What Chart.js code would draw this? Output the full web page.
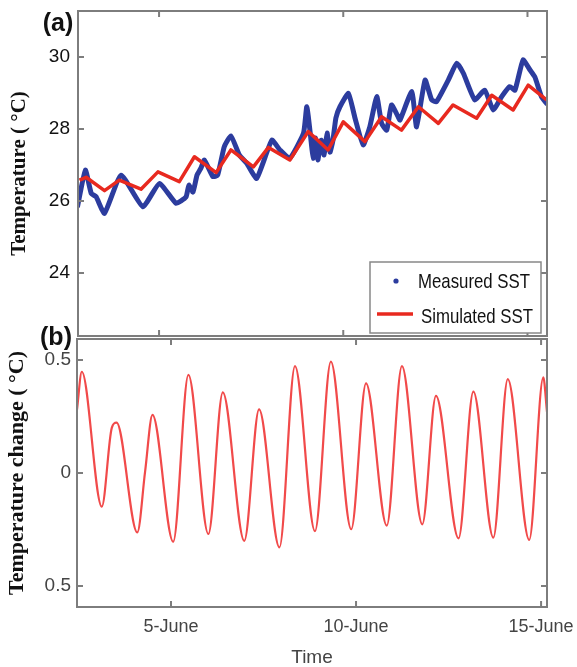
<!DOCTYPE html>
<html><head><meta charset="utf-8">
<script src="https://cdn.jsdelivr.net/npm/chart.js@4.4.1/dist/chart.umd.min.js"></script>
<style>
html,body{margin:0;padding:0;background:#fff;}
#wrap{position:relative;width:577px;height:667px;overflow:hidden;background:#fff;}
#topBox{position:absolute;left:0;top:0;width:577px;height:338px;}
#botBox{position:absolute;left:0;top:300px;width:577px;height:367px;}
canvas{display:block;}
</style></head><body>
<div id="wrap">
<div id="topBox"><canvas id="top" width="577" height="338"></canvas></div>
<div id="botBox"><canvas id="bot" width="577" height="367"></canvas></div>
</div>
<script>
// ---- data ----
const xTickDays = [5, 10, 15];
const xTickLabels = ['5-June', '10-June', '15-June'];
const topYTicks = [24, 26, 28, 30];
const bottomYTicks = [-0.5, 0, 0.5];
const bottomYLabels = ['0.5', '0', '0.5'];

const measDays = [2.79,3.00,3.16,3.29,3.52,3.97,4.56,5.01,5.46,5.73,5.81,5.92,6.03,6.14,6.23,6.46,6.59,6.77,6.95,7.18,7.38,7.65,8.06,8.28,8.55,8.92,9.01,9.11,9.18,9.25,9.31,9.40,9.48,9.56,9.64,9.72,9.80,9.91,10.14,10.32,10.54,10.72,10.91,11.04,11.18,11.31,11.49,11.54,11.86,11.99,12.22,12.40,12.53,12.85,13.08,13.26,13.57,13.84,14.07,14.30,14.52,14.66,14.88,15.07,15.20,15.38,15.52];
const measSST  = [25.86,26.86,26.21,26.12,25.66,26.72,25.84,26.49,25.94,26.11,26.44,26.25,26.72,26.92,27.14,26.68,26.72,27.51,27.81,27.28,27.05,26.63,27.69,27.42,27.19,27.88,28.62,27.83,27.19,27.75,27.14,27.69,27.28,27.89,27.36,27.69,28.31,28.62,28.99,28.30,27.56,28.06,28.90,28.16,27.97,28.67,28.34,28.25,29.04,28.06,29.36,28.81,28.76,29.36,29.83,29.55,28.81,29.08,28.53,28.90,29.18,29.08,29.92,29.64,29.45,28.90,28.71];

const simDays = [2.84,3.02,3.52,3.92,4.51,4.97,5.55,5.96,6.55,6.95,7.20,7.56,7.97,8.55,9.05,9.59,10.00,10.59,11.04,11.58,12.04,12.58,12.98,13.62,14.03,14.61,15.02,15.52];
const simSST  = [26.58,26.66,26.29,26.58,26.33,26.81,26.54,27.23,26.79,27.42,27.23,26.95,27.49,27.14,27.93,27.42,28.20,27.65,28.34,27.97,28.62,28.16,28.67,28.30,28.94,28.53,29.22,28.81];

const chgDays = [2.46,2.59,3.13,3.40,3.53,4.09,4.30,4.50,5.06,5.47,6.01,6.40,6.98,7.38,7.93,8.35,8.89,9.32,9.87,10.27,10.83,11.24,11.79,12.16,12.77,13.17,13.71,14.10,14.68,15.06,15.16];
const chgVals = [0.28,0.448,-0.149,0.20,0.223,-0.263,0.006,0.257,-0.304,0.434,-0.27,0.357,-0.30,0.282,-0.329,0.473,-0.257,0.493,-0.249,0.397,-0.233,0.473,-0.227,0.341,-0.289,0.36,-0.286,0.415,-0.296,0.423,0.27];

// ---- helpers ----
const SANS = '"Liberation Sans", Arial, Helvetica, sans-serif';
const SERIF = '"Liberation Serif", "Times New Roman", Times, serif';
Chart.defaults.font.family = SANS;

const pts = (xs, ys) => xs.map((x, i) => ({x: x, y: ys[i]}));

const framePlugin = {
  id: 'frame',
  afterDraw(chart, args, o) {
    const {ctx, chartArea: a, scales} = chart;
    ctx.save();
    ctx.strokeStyle = o.color; ctx.lineWidth = o.width;
    const L = 6;
    ctx.beginPath();
    scales.x.ticks.forEach(t => {
      const px = scales.x.getPixelForValue(t.value);
      ctx.moveTo(px, a.top); ctx.lineTo(px, a.top + L);
      ctx.moveTo(px, a.bottom); ctx.lineTo(px, a.bottom - L);
    });
    scales.y.ticks.forEach(t => {
      const py = scales.y.getPixelForValue(t.value);
      ctx.moveTo(a.left, py); ctx.lineTo(a.left + L, py);
      ctx.moveTo(a.right, py); ctx.lineTo(a.right - L, py);
    });
    ctx.stroke();
    ctx.strokeRect(a.left, a.top, a.right - a.left, a.bottom - a.top);
    ctx.fillStyle = '#111';
    ctx.font = 'bold 25px ' + SANS;
    ctx.textAlign = 'center'; ctx.textBaseline = 'middle';
    ctx.fillText(o.label, o.lx, o.ly);
    ctx.restore();
  }
};

const boxLegend = {
  id: 'boxLegend',
  afterDraw(chart, args, o) {
    const ctx = chart.ctx;
    const ds = chart.data.datasets;
    ctx.save();
    ctx.fillStyle = '#fff';
    ctx.fillRect(o.x, o.y, o.w, o.h);
    ctx.strokeStyle = '#888'; ctx.lineWidth = 1.5;
    ctx.strokeRect(o.x, o.y, o.w, o.h);
    ctx.fillStyle = ds[0].borderColor;
    ctx.beginPath(); ctx.arc(o.x + 26, o.y + 19, 2.6, 0, Math.PI * 2); ctx.fill();
    ctx.strokeStyle = ds[1].borderColor; ctx.lineWidth = 3.5;
    ctx.beginPath(); ctx.moveTo(o.x + 7, o.y + 52); ctx.lineTo(o.x + 43, o.y + 52); ctx.stroke();
    ctx.fillStyle = '#111';
    ctx.font = '21px ' + SANS;
    ctx.textBaseline = 'middle'; ctx.textAlign = 'left';
    [[ds[0].label, o.x + 48, o.y + 20], [ds[1].label, o.x + 51, o.y + 55]].forEach(([t, x, y]) => {
      ctx.save(); ctx.translate(x, y); ctx.scale(0.8, 1); ctx.fillText(t, 0, 0); ctx.restore();
    });
    ctx.restore();
  }
};

// ---- top panel (a) ----
new Chart(document.getElementById('top'), {
  type: 'line',
  data: {
    datasets: [
      {label: 'Measured SST', data: pts(measDays, measSST), borderColor: '#2c3c9e', backgroundColor: '#2c3c9e',
       borderWidth: 5, pointRadius: 0, tension: 0.15, borderJoinStyle: 'round', borderCapStyle: 'round', order: 1},
      {label: 'Simulated SST', data: pts(simDays, simSST), borderColor: '#e8291f', backgroundColor: '#e8291f',
       borderWidth: 3.5, pointRadius: 0, tension: 0, borderJoinStyle: 'round', order: 0}
    ]
  },
  options: {
    responsive: false, animation: false, events: [],
    layout: {autoPadding: false, padding: {top: 11, right: 30, bottom: 0, left: 0}},
    plugins: {
      legend: {display: false}, tooltip: {enabled: false},
      frame: {color: '#7d7d7d', width: 2, label: '(a)', lx: 58, ly: 24},
      boxLegend: {x: 370, y: 262, w: 171, h: 71}
    },
    scales: {
      x: {type: 'linear', min: 2.8, max: 15.53,
          afterBuildTicks: s => { s.ticks = xTickDays.map(v => ({value: v})); },
          ticks: {display: false}, grid: {display: false, drawTicks: false}, border: {display: false},
          afterFit: s => { s.height = 2; s.paddingLeft = 0; s.paddingRight = 0; }},
      y: {type: 'linear', min: 22.25, max: 31.28,
          afterBuildTicks: s => { s.ticks = topYTicks.map(v => ({value: v})); },
          ticks: {padding: 8, color: '#111', font: {size: 19}, callback: v => String(v)},
          grid: {display: false, drawTicks: false}, border: {display: false},
          title: {display: true, text: 'Temperature ( °C)', color: '#111',
                  font: {family: SERIF, size: 21, weight: 'bold'}, padding: {top: 7, bottom: 0}},
          afterFit: s => { s.width = 78; s.paddingTop = 0; s.paddingBottom = 0; }}
    }
  },
  plugins: [framePlugin, boxLegend]
});

// ---- bottom panel (b) ----
new Chart(document.getElementById('bot'), {
  type: 'line',
  data: {
    datasets: [
      {label: 'Temperature change', data: pts(chgDays, chgVals), borderColor: '#f14a4a',
       borderWidth: 2.2, pointRadius: 0, cubicInterpolationMode: 'monotone'}
    ]
  },
  options: {
    responsive: false, animation: false, events: [],
    layout: {autoPadding: false, padding: {top: 39, right: 30, bottom: 0, left: 0}},
    plugins: {
      legend: {display: false}, tooltip: {enabled: false},
      frame: {color: '#7d7d7d', width: 2, label: '(b)', lx: 56, ly: 38}
    },
    scales: {
      x: {type: 'linear', min: 2.46, max: 15.16,
          afterBuildTicks: s => { s.ticks = xTickDays.map(v => ({value: v})); },
          ticks: {padding: 9, color: '#444', font: {size: 18}, maxRotation: 0, autoSkip: false,
                  callback: (v, i) => xTickLabels[i]},
          grid: {display: false, drawTicks: false}, border: {display: false},
          title: {display: true, text: 'Time', color: '#444', font: {size: 19, lineHeight: 1}, padding: 0},
          afterFit: s => { s.height = 60; s.paddingLeft = 0; s.paddingRight = 0; }},
      y: {type: 'linear', min: -0.593, max: 0.593,
          afterBuildTicks: s => { s.ticks = bottomYTicks.map(v => ({value: v})); },
          ticks: {padding: 6, color: '#444', font: {size: 19}, callback: (v, i) => bottomYLabels[i]},
          grid: {display: false, drawTicks: false}, border: {display: false},
          title: {display: true, text: 'Temperature change ( °C)', color: '#111',
                  font: {family: SERIF, size: 22, weight: 'bold'}, padding: {top: 4, bottom: 0}},
          afterFit: s => { s.width = 77; s.paddingTop = 0; s.paddingBottom = 0; }}
    }
  },
  plugins: [framePlugin]
});
</script>
</body></html>
